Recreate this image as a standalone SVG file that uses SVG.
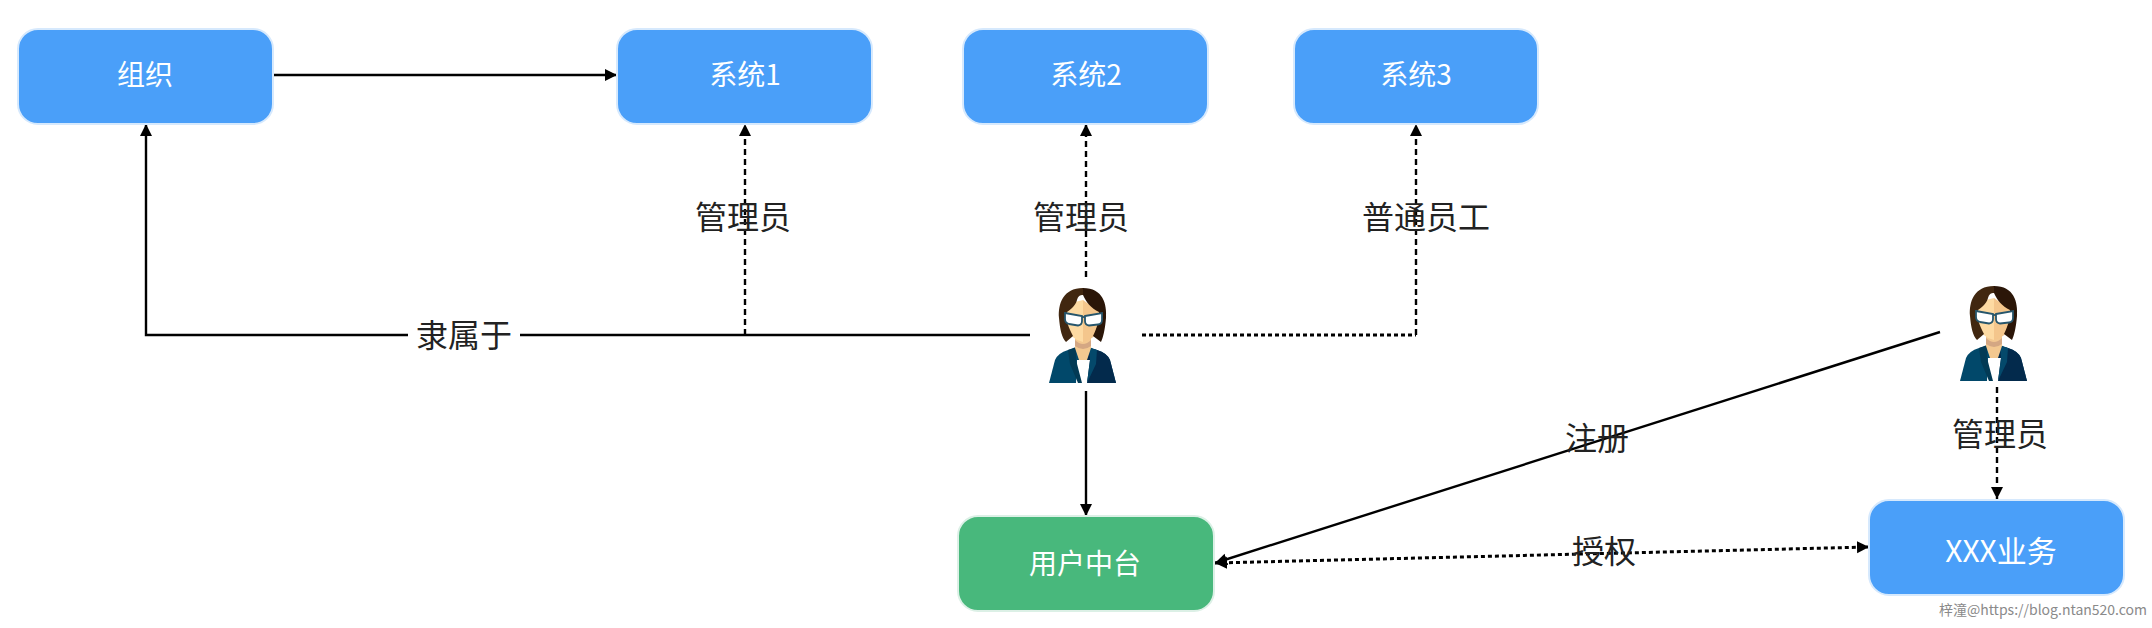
<svg xmlns="http://www.w3.org/2000/svg" xmlns:xlink="http://www.w3.org/1999/xlink" width="2152" height="628" viewBox="0 0 2152 628">
<style>
text{font-family:"Noto Sans CJK SC","Noto Sans",sans-serif;text-anchor:middle;dominant-baseline:central}
.box{stroke:#d6e9fd;stroke-width:2}
.blue{fill:#4a9ff9}
.green{fill:#48b87c;stroke:#dcf0e6}
.nt{fill:#fff;font-size:28px;font-weight:400}
.lb{fill:#222;font-size:32px}
.ln{fill:none;stroke:#000;stroke-width:2.4}
.sd{stroke-dasharray:6 4}
.dt{stroke-dasharray:4 3;stroke-width:3}
</style>
<defs>
<marker id="a" markerUnits="userSpaceOnUse" markerWidth="14" markerHeight="14" refX="12" refY="6" orient="auto-start-reverse"><path d="M0 0L12 6L0 12Z" fill="#000"/></marker>
<g id="woman">
<path d="M0 95L6 72Q9 65 19 62L33 58L48 62Q58 65 61 72L67 95Z" fill="#01486a"/>
<path d="M33 58L48 62Q58 65 61 72L67 95H38Z" fill="#032a4c"/>
<path d="M27 95L28 72H41L38 95Z" fill="#fff"/>
<path d="M19 62L27 59L27 72L33 95H29L21 76Z" fill="#023a55"/>
<path d="M48 62L40 59L41 72L38 95L47 76Z" fill="#04496b"/>
<path d="M26 48H42V60L38 72H30L26 60Z" fill="#f3c890"/>
<path d="M26 52Q34 60 42 52V58Q34 64 26 58Z" fill="#d4a783"/>
<path d="M17 22L26 14L34 12V54Q22 52 17 38Z" fill="#fddaa2"/>
<path d="M34 12L51 24V38Q46 52 34 54Z" fill="#f4c68c"/>
<path d="M34 0C14 0 9 16 10 30C11 42 13 50 17 54L24 48C20 40 16 32 18 24C24 20 27 16 28 12C29 8 31 7 34 7Z" fill="#412710"/>
<path d="M34 0C54 0 58 16 57 30C56 42 54 50 52 54L44 48C48 40 51 30 50 24C42 20 37 14 34 7Z" fill="#2b1608"/>
<path d="M16 25L33 28V33Q33 37 29 37.500L20 36Q16 35 16 31Z" fill="#fff" stroke="#27566c" stroke-width="1.8"/>
<path d="M36 28L53 25V32Q53 36 49 36.500L40 37.500Q36 37 36 33Z" fill="#fff" stroke="#27566c" stroke-width="1.8"/>
<path d="M33 29H36" stroke="#27566c" stroke-width="1.8"/>
</g>
</defs>
<rect width="2152" height="628" fill="#fff"/>
<g id="connectors">
<path class="ln" d="M408 335H146V124" marker-end="url(#a)"/>
<path class="ln" d="M520 335H1030"/>
<path class="ln" d="M273 75H617" marker-end="url(#a)"/>
<path class="ln sd" d="M745 335V124" marker-end="url(#a)"/>
<path class="ln sd" d="M1086 277V124" marker-end="url(#a)"/>
<path class="ln dt" d="M1142 335H1416"/>
<path class="ln sd" d="M1416 335V124" marker-end="url(#a)"/>
<path class="ln" d="M1086 391V516" marker-end="url(#a)"/>
<path class="ln" d="M1940 332L1215 563" marker-end="url(#a)"/>
<path class="ln dt" d="M1215 563L1869 547" marker-start="url(#a)" marker-end="url(#a)"/>
<path class="ln sd" d="M1997 387V499" marker-end="url(#a)"/>
</g>
<g id="node-org"><rect class="box blue" x="18" y="29" width="255" height="95" rx="20"/><text class="nt" x="145" y="73">组织</text></g>
<g id="node-sys1"><rect class="box blue" x="617" y="29" width="255" height="95" rx="20"/><text class="nt" x="745" y="73">系统1</text></g>
<g id="node-sys2"><rect class="box blue" x="963" y="29" width="245" height="95" rx="20"/><text class="nt" x="1086" y="73">系统2</text></g>
<g id="node-sys3"><rect class="box blue" x="1294" y="29" width="244" height="95" rx="20"/><text class="nt" x="1416" y="73">系统3</text></g>
<g id="node-platform"><rect class="box green" x="958" y="516" width="256" height="95" rx="20"/><text class="nt" x="1085" y="562">用户中台</text></g>
<g id="node-biz"><rect class="box blue" x="1869" y="500" width="255" height="95" rx="20"/><text class="nt" style="font-size:30px" x="2001" y="549">XXX业务</text></g>
<g id="node-user1"><use xlink:href="#woman" href="#woman" x="1049" y="288"/></g>
<g id="node-user2"><use xlink:href="#woman" href="#woman" x="1960" y="286"/></g>
<g id="labels">
<text class="lb" x="743" y="215">管理员</text>
<text class="lb" x="1081" y="215">管理员</text>
<text class="lb" x="1426" y="215">普通员工</text>
<text class="lb" x="464" y="333">隶属于</text>
<text class="lb" x="1597" y="436">注册</text>
<text class="lb" x="1604" y="549">授权</text>
<text class="lb" x="2000" y="432">管理员</text>
<text x="2043" y="609" style="font-size:14px;fill:#8a8a8a">梓潼@https://blog.ntan520.com</text>
</g>
</svg>
